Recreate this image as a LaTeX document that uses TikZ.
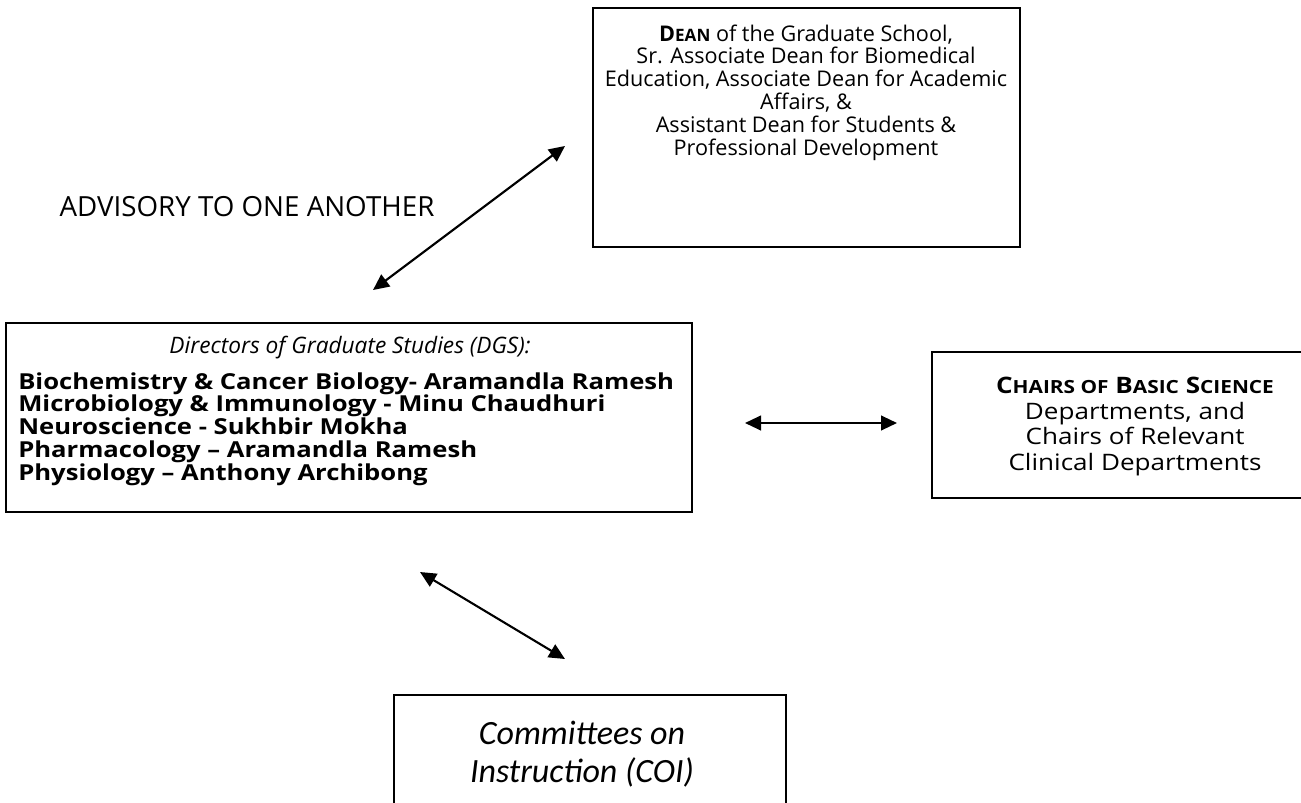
\documentclass[tikz,border=0pt]{standalone}
\usepackage{fontspec}
\setmainfont{Open Sans}
\newfontfamily\widefont[FakeStretch=1.165,Ligatures=TeX]{Open Sans}
\newfontfamily\chairfont[FakeStretch=1.15,Ligatures=TeX]{Open Sans}
\newfontfamily\coifont{Carlito}
\usetikzlibrary{arrows.meta}
\setlength{\lineskiplimit}{-20pt}
\newcommand{\smc}[1]{{\fontsize{12.8}{17}\selectfont #1}}
\newcommand{\bigsmc}[1]{{\fontsize{13.6}{19}\selectfont #1}}

\tikzset{
  box/.style={draw, line width=1.6pt, inner sep=0pt},
  txt/.style={align=center, inner sep=0pt, font=\fontsize{16.2}{17.1}\selectfont},
  link/.style={{Triangle[length=12pt,width=11pt]}-{Triangle[length=12pt,width=11pt]}, line width=1.6pt}
}

\begin{document}
\begin{tikzpicture}[x=0.75pt, y=-0.75pt]
    \useasboundingbox (0,0) rectangle (1301,802);
    \clip (0,0) rectangle (1301,802);

    % boxes
    \node[box, minimum width=427*0.75pt, minimum height=239*0.75pt] (dean) at (806.5,127.5) {};
    \node[box, minimum width=686*0.75pt, minimum height=189*0.75pt] (dgs) at (349,417.5) {};
    \node[box, minimum width=408*0.75pt, minimum height=146*0.75pt] (chairs) at (1136,425) {};
    \node[box, minimum width=392*0.75pt, minimum height=145*0.75pt] (coi) at (590,767.5) {};

    % texts
    \node[txt] (deantext) at (806,92.5) {\textbf{D\smc{EAN}} of the Graduate School,\\
        Sr. Associate Dean for Biomedical\\
        Education, Associate Dean for Academic\\
        Affairs, \&\\
        Assistant Dean for Students \&\\
        Professional Development};
    \node[txt, font=\fontsize{20.8}{21}\selectfont] (adv) at (247,207) {ADVISORY TO ONE ANOTHER};
    \node[txt, font=\fontsize{17}{17}\selectfont\itshape] (dgstitle) at (350,348) {Directors of Graduate Studies (DGS):};
    \node[txt, align=left, anchor=west, font=\fontsize{16.5}{17.06}\selectfont\widefont\bfseries] (dgslist) at (18,429) {Biochemistry \& Cancer Biology- Aramandla Ramesh\\
        Microbiology \& Immunology - Minu Chaudhuri\\
        Neuroscience - Sukhbir Mokha\\
        Pharmacology \textendash{} Aramandla Ramesh\\
        Physiology \textendash{} Anthony Archibong};
    \node[txt, font=\fontsize{17}{19.2}\selectfont\chairfont] (chairstext) at (1135,426.5) {\textbf{C\bigsmc{HAIRS OF} B\bigsmc{ASIC} S\bigsmc{CIENCE}}\\
        Departments, and\\
        Chairs of Relevant\\
        Clinical Departments};
    \node[txt, font=\fontsize{25.5}{28.5}\selectfont\coifont\itshape] (coitext) at (582,754) {Committees on\\ Instruction (COI)};

    % arrows
    \coordinate (advlow) at (373,290);
    \coordinate (advhigh) at (565,146);
    \coordinate (chairsleft) at (745,423);
    \coordinate (chairsright) at (897,423);
    \coordinate (coihigh) at (420,572);
    \coordinate (coilow) at (565,659);
    \draw[link] (advlow) -- (advhigh);
    \draw[link] (chairsleft) -- (chairsright);
    \draw[link] (coihigh) -- (coilow);
\end{tikzpicture}
\end{document}
